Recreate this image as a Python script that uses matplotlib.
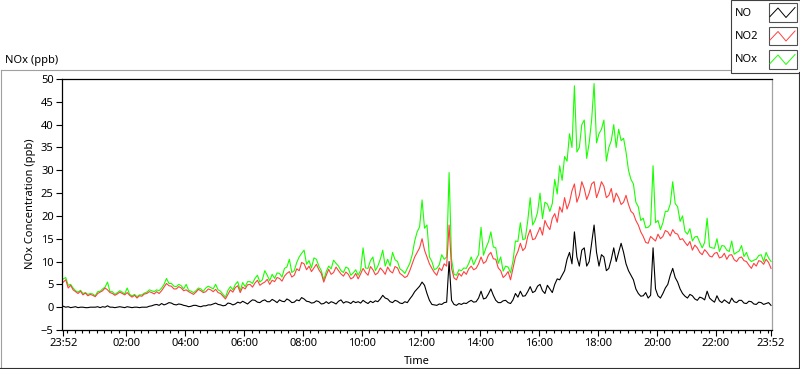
import numpy as np
import pandas as pd
import matplotlib
matplotlib.use('Agg')
import matplotlib.pyplot as plt
import matplotlib.dates as mdates
from matplotlib.lines import Line2D
from matplotlib.patches import Rectangle

# 5-minute readings, 23:52 -> 23:52 next day (one row per hour)
NO2 = [5.5, 6.0, 4.2, 4.8, 3.8, 3.4, 3.0, 3.5, 2.7, 3.1, 2.5, 2.8,
       2.6, 2.3, 3.0, 3.3, 3.6, 4.2, 3.8, 3.2, 3.0, 2.6, 2.9, 3.3,
       3.0, 2.7, 3.2, 2.6, 2.2, 2.6, 2.0, 2.5, 2.4, 2.9, 3.0, 3.4,
       3.2, 2.9, 3.4, 3.0, 3.6, 4.4, 5.2, 4.7, 4.6, 4.0, 4.0, 4.5,
       4.2, 3.6, 3.8, 3.4, 3.1, 2.8, 3.3, 3.9, 3.6, 3.2, 3.4, 4.0,
       3.8, 3.4, 3.9, 3.2, 3.0, 2.4, 1.8, 2.8, 3.8, 3.3, 4.3, 4.7,
       3.2, 4.4, 4.0, 4.9, 5.0, 4.4, 5.3, 5.9, 4.8, 5.2, 5.5, 6.1,
       5.0, 5.9, 5.6, 6.5, 6.3, 5.7, 6.8, 7.4, 7.8, 6.6, 7.0, 8.4,
       8.0, 9.8, 9.5, 8.2, 9.0, 7.8, 8.6, 9.4, 8.2, 7.4, 5.5, 7.0,
       8.3, 7.2, 7.6, 8.8, 8.0, 7.3, 6.8, 7.7, 7.2, 6.2, 6.5, 7.4,
       6.2, 7.3, 8.5, 7.6, 7.0, 8.9, 8.2, 7.1, 7.5, 8.6, 8.0, 7.2,
       8.8, 7.9, 7.5, 8.9, 8.6, 7.4, 7.0, 6.5, 6.8, 8.0, 9.5, 11.0,
       12.0, 13.0, 15.0, 12.5, 11.0, 9.5, 8.5, 7.6, 7.0, 8.6, 8.0, 9.5,
       9.0, 18.0, 8.5, 6.4, 6.0, 7.4, 6.8, 7.8, 7.2, 8.4, 9.0, 8.2,
       8.5, 9.5, 11.0, 9.6, 10.0, 11.4, 12.0, 10.6, 10.5, 8.6, 8.0, 6.5,
       7.0, 7.8, 6.0, 8.5, 11.0, 12.2, 14.0, 12.4, 13.0, 15.5, 17.0, 14.8,
       15.0, 16.2, 17.5, 15.8, 19.0, 17.8, 17.0, 19.5, 20.5, 18.6, 22.0, 20.8,
       24.0, 21.5, 23.0, 25.5, 27.0, 23.0, 24.5, 27.5, 26.0, 23.6, 25.0, 27.0,
       27.5, 24.0, 25.5, 27.5, 26.5, 24.0, 24.5, 26.0, 23.0, 25.0, 24.0, 22.5,
       23.0, 24.5, 22.5, 21.0, 20.5, 19.0, 18.0, 16.5, 15.5, 14.2, 14.0, 15.5,
       15.0, 14.5, 16.0, 15.0, 15.5, 16.8, 16.5, 15.6, 17.0, 16.2, 16.0, 14.8,
       15.0, 14.2, 13.5, 14.4, 12.5, 13.6, 13.0, 12.0, 11.5, 12.6, 12.0, 11.2,
       11.0, 11.8, 12.0, 10.8, 11.0, 11.8, 10.5, 11.4, 11.5, 10.4, 10.0, 10.8,
       11.0, 10.2, 10.0, 9.2, 8.5, 9.6, 9.0, 10.2, 10.0, 9.4, 10.5, 9.8,
       8.5]

NOX = [6.2, 6.5, 4.8, 5.0, 4.2, 3.6, 3.3, 3.7, 3.0, 3.2, 2.8, 3.0,
       2.9, 2.5, 3.4, 3.5, 4.0, 4.4, 5.5, 3.4, 3.4, 2.8, 3.2, 3.6,
       3.3, 2.9, 4.2, 2.8, 2.5, 2.8, 2.3, 2.7, 2.7, 3.1, 3.3, 3.8,
       3.6, 3.4, 3.8, 3.6, 4.2, 5.0, 6.3, 5.2, 5.2, 4.6, 4.5, 5.0,
       4.7, 4.0, 5.0, 3.7, 3.5, 3.2, 3.6, 4.2, 4.0, 3.5, 4.2, 4.6,
       4.3, 4.0, 5.0, 3.8, 3.5, 2.8, 2.2, 3.7, 4.5, 3.8, 5.0, 5.6,
       3.6, 5.4, 4.5, 5.6, 5.6, 5.2, 6.3, 7.0, 5.5, 6.0, 8.0, 7.0,
       5.8, 7.2, 6.3, 7.5, 7.4, 6.6, 8.5, 8.8, 10.5, 7.6, 8.0, 9.8,
       11.0, 11.8, 12.5, 9.4, 10.2, 8.6, 10.8, 10.5, 9.0, 8.0, 6.0, 7.8,
       9.0, 8.4, 10.3, 9.6, 9.0, 8.0, 7.6, 8.8, 8.5, 7.0, 7.5, 8.2,
       7.0, 8.1, 13.0, 8.6, 8.5, 10.2, 11.0, 8.0, 9.0, 10.5, 12.5, 9.0,
       10.5, 9.0, 12.0, 10.4, 10.0, 8.4, 8.0, 7.4, 8.5, 9.6, 11.5, 14.5,
       16.5, 17.6, 23.5, 17.3, 18.0, 11.0, 10.0, 8.2, 8.5, 9.3, 11.5, 10.5,
       11.0, 29.5, 10.5, 7.2, 7.0, 8.2, 8.0, 8.6, 8.5, 9.6, 11.0, 9.3,
       10.5, 11.5, 17.5, 11.4, 13.0, 14.3, 16.5, 13.2, 13.0, 9.6, 11.0, 7.9,
       9.0, 8.8, 7.5, 10.1, 14.5, 14.4, 18.5, 14.8, 15.0, 18.9, 24.0, 18.0,
       19.0, 20.8, 25.0, 19.4, 23.0, 22.6, 21.0, 22.7, 28.0, 24.8, 31.0, 27.8,
       33.0, 32.0, 38.0, 35.0, 48.5, 34.0, 35.0, 40.0, 41.0, 32.6, 36.0, 41.0,
       49.0, 36.0, 38.0, 39.0, 41.0, 32.0, 35.0, 36.5, 40.0, 35.0, 39.0, 36.5,
       37.0, 34.0, 30.0, 28.0, 27.0, 23.0, 22.0, 19.0, 19.5, 17.4, 17.5, 18.1,
       31.0, 18.5, 19.0, 17.0, 18.5, 21.0, 21.0, 22.6, 27.5, 22.7, 22.0, 18.8,
       20.0, 16.6, 16.0, 17.2, 14.5, 15.4, 15.5, 14.2, 13.0, 14.2, 19.5, 13.2,
       13.0, 12.9, 15.0, 12.2, 13.5, 13.4, 12.5, 12.2, 14.5, 11.6, 12.0, 12.3,
       13.5, 11.1, 12.0, 10.5, 10.0, 10.3, 10.5, 11.3, 11.5, 10.0, 12.0, 10.8,
       10.0]

NO = [0.2, 0.0, 0.1, -0.1, 0.0, 0.1, -0.1, 0.0, 0.0, -0.1, -0.1, 0.0,
      0.0, 0.0, 0.1, -0.1, 0.1, 0.0, 0.3, 0.0, 0.0, -0.1, 0.0, 0.1,
      0.0, -0.1, 0.1, 0.0, -0.1, 0.0, 0.0, -0.1, 0.0, 0.0, 0.0, 0.2,
      0.3, 0.5, 0.6, 0.4, 0.8, 0.5, 0.7, 1.0, 0.9, 0.6, 0.5, 0.7,
      0.6, 0.4, 0.3, 0.1, 0.2, 0.4, 0.4, 0.2, 0.1, 0.3, 0.3, 0.5,
      0.5, 0.7, 0.9, 0.6, 0.5, 0.3, 0.4, 0.9, 0.8, 0.5, 0.7, 1.1,
      0.9, 1.3, 1.0, 0.7, 1.2, 1.6, 1.5, 1.1, 1.0, 1.4, 1.6, 1.2,
      1.2, 1.7, 1.4, 1.0, 1.6, 1.3, 1.2, 1.8, 1.5, 1.0, 1.1, 1.6,
      1.4, 2.1, 1.8, 1.3, 1.2, 0.9, 1.0, 1.4, 1.2, 0.7, 0.8, 1.2,
      0.8, 1.2, 1.0, 0.7, 1.3, 1.6, 0.9, 1.2, 1.1, 0.8, 1.3, 1.0,
      1.2, 0.9, 1.5, 1.1, 0.8, 1.3, 1.0, 1.4, 1.2, 1.8, 2.6, 2.0,
      1.8, 1.2, 1.0, 1.5, 1.3, 0.9, 0.8, 1.2, 1.0, 1.8, 2.5, 3.4,
      4.0, 4.6, 5.5, 4.8, 3.0, 1.5, 0.6, 0.5, 0.4, 0.7, 0.6, 1.0,
      1.1, 10.0, 1.5, 0.6, 0.4, 0.8, 0.6, 0.9, 0.8, 1.2, 1.5, 1.1,
      1.2, 2.0, 3.5, 1.8, 2.0, 2.9, 4.0, 2.6, 1.5, 1.0, 1.0, 1.4,
      1.5, 1.0, 0.8, 1.6, 3.0, 2.2, 3.5, 2.4, 2.5, 3.4, 4.5, 3.2,
      3.5, 4.6, 5.0, 3.6, 3.0, 4.8, 4.0, 3.2, 5.0, 6.2, 6.0, 7.0,
      8.0, 10.5, 12.0, 9.5, 16.5, 11.0, 9.0, 12.5, 13.0, 9.0, 10.0, 14.0,
      18.0, 12.0, 9.0, 11.5, 11.0, 8.0, 8.5, 10.5, 13.0, 10.0, 12.0, 14.0,
      12.0, 9.5, 8.0, 7.0, 6.0, 4.0, 3.0, 2.4, 2.5, 3.2, 2.0, 2.6,
      13.0, 4.0, 2.5, 2.0, 3.0, 4.2, 5.0, 7.0, 8.5, 6.5, 5.5, 4.0,
      3.0, 2.4, 2.0, 2.8, 2.5, 1.8, 1.5, 2.2, 2.0, 1.6, 3.5, 2.0,
      1.5, 1.1, 2.5, 1.4, 1.0, 1.6, 1.2, 0.8, 2.0, 1.2, 1.0, 1.5,
      1.5, 0.9, 0.8, 1.3, 1.2, 0.7, 0.6, 1.1, 1.0, 0.6, 0.8, 1.0,
      0.4]

SERIES = ['NO', 'NO2', 'NOx']
COLORS = {'NO': 'black', 'NO2': '#ff4040', 'NOx': '#19ff00'}

plt.rcParams['font.family'] = ['Noto Sans', 'DejaVu Sans']
plt.rcParams['font.size'] = 8

W, H = 800, 369
times = pd.date_range('2023-05-01 23:52', periods=len(NO2), freq='5min')


def px(x, y):
    # pixel coords (from top-left) -> figure fraction
    return x / W, 1 - y / H


fig = plt.figure(figsize=(W / 100, H / 100), dpi=100)
ax = fig.add_axes([62 / W, 39 / H, 710 / W, 251 / H])

ax.plot(times, NOX, color=COLORS['NOx'], lw=0.8)
ax.plot(times, NO2, color=COLORS['NO2'], lw=0.8)
ax.plot(times, NO, color=COLORS['NO'], lw=0.8)

ax.set_ylim(-5, 50)
ax.set_yticks(range(-5, 51, 5))
ax.set_xlim(times[0] - pd.Timedelta(minutes=2.6), times[-1] + pd.Timedelta(minutes=2))

major = [times[0]] + list(pd.date_range('2023-05-02 02:00', '2023-05-02 22:00', freq='2h')) + [times[-1]]
ax.set_xticks(mdates.date2num(major))
ax.set_xticklabels([t.strftime('%H:%M') for t in major])
ax.xaxis.set_minor_locator(mdates.MinuteLocator(byminute=[0, 15, 30, 45]))

ax.tick_params(which='major', direction='out', length=4, width=0.8, pad=2, colors='black')
ax.tick_params(which='minor', direction='out', length=2.5, width=0.8)
for s in ['left', 'top', 'bottom']:
    ax.spines[s].set_color('black')
    ax.spines[s].set_linewidth(0.9)
ax.spines['right'].set_color('#a0a0a0')
ax.spines['right'].set_linewidth(0.9)

fig.text(*px(31, 204), 'NOx Concentration (ppb)', rotation=90, ha='center', va='center')
fig.text(*px(417, 361), 'Time', ha='center', va='center')
fig.text(*px(5, 60), 'NOx (ppb)', ha='left', va='center')

# outer panel frame
fig.add_artist(Line2D(*zip(px(0.5, 69.5), px(730, 69.5)), color='#a0a0a0', lw=0.8))
fig.add_artist(Line2D(*zip(px(0.5, 69.5), px(0.5, 368)), color='#a0a0a0', lw=0.8))
fig.add_artist(Line2D(*zip(px(0, 367.6), px(800, 367.6)), color='#303030', lw=0.8))
fig.add_artist(Line2D(*zip(px(799.4, 72), px(799.4, 368)), color='#303030', lw=0.8))

# legend panel
x0, y0 = px(730.5, 72.5)
fig.add_artist(Rectangle((x0, y0), 69 / W, 72.5 / H, transform=fig.transFigure,
                         fc='white', ec='#404040', lw=0.8))
for i, name in enumerate(SERIES):
    top = 3.5 + i * 23.5
    fig.text(*px(735, top + 9.5), name, ha='left', va='center')
    bx, by = px(768.5, top + 18)
    fig.add_artist(Rectangle((bx, by), 28.5 / W, 18 / H, transform=fig.transFigure,
                             fc='white', ec='#505050', lw=0.8))
    zx = [770, 778, 786, 795]
    zy = [top + 13, top + 4.5, top + 14, top + 4]
    pts = [px(a, b) for a, b in zip(zx, zy)]
    fig.add_artist(Line2D([p[0] for p in pts], [p[1] for p in pts],
                          color=COLORS[name], lw=0.7))

fig.savefig('out.png', dpi=100)
